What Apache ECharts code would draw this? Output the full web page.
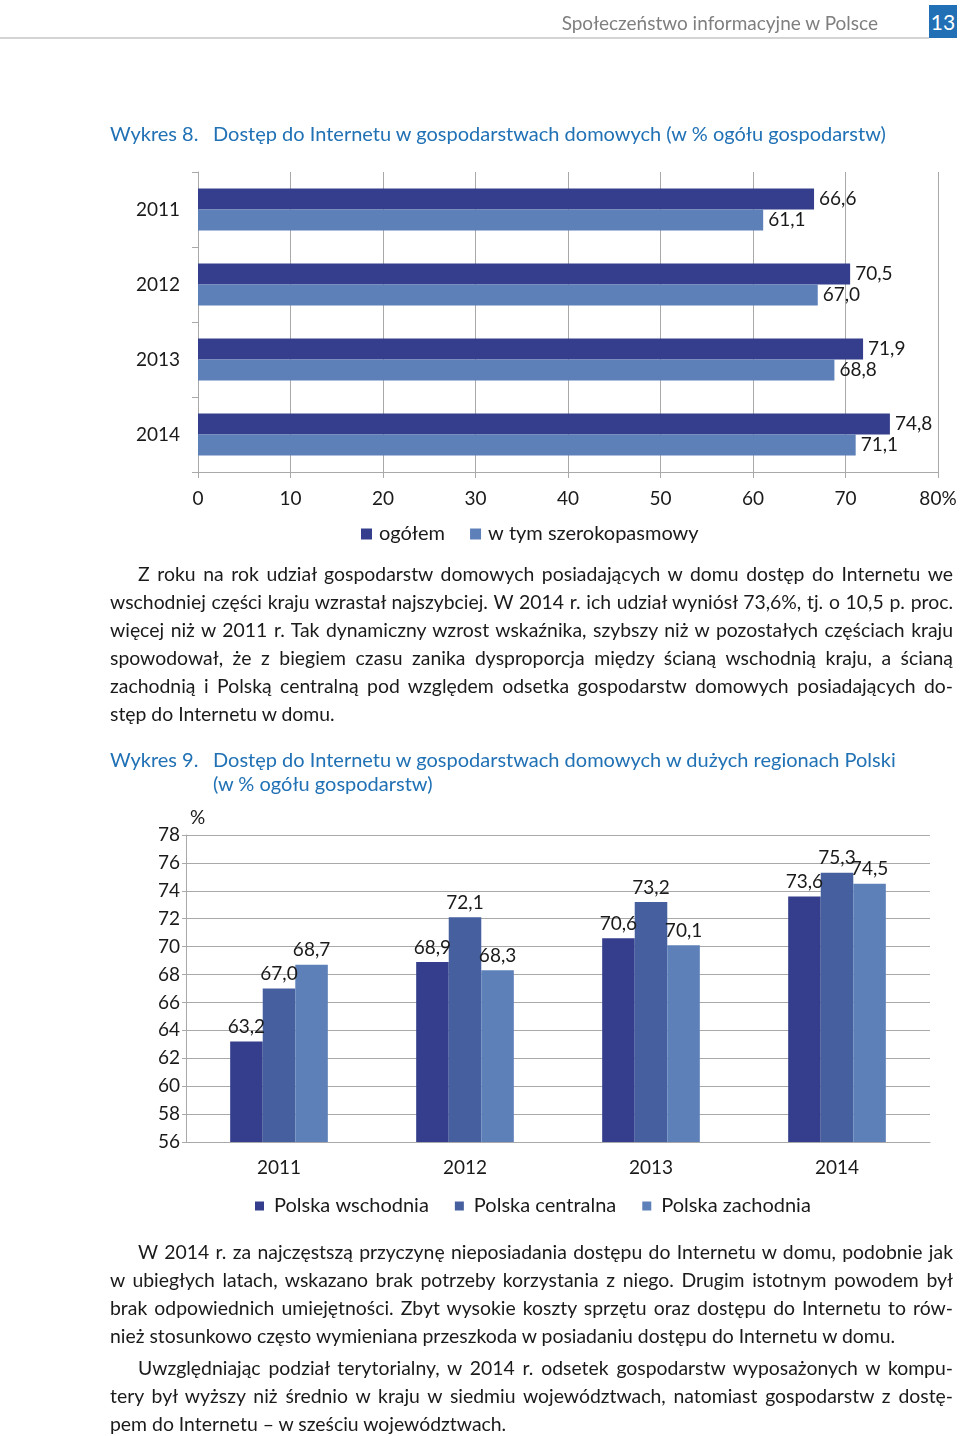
<!DOCTYPE html>
<html>
<head>
<meta charset="utf-8">
<script src="https://cdn.jsdelivr.net/npm/echarts@6/dist/echarts.min.js"></script>
<style>
  html, body { margin:0; padding:0; background:#fff; }
  body { width:960px; height:1436px; position:relative; overflow:hidden; font-family: Lato, "Liberation Sans", sans-serif; color:#1a1a1a; }
  #chart { position:absolute; left:0; top:0; width:960px; height:1436px; }
  .abs { position:absolute; white-space:nowrap; }
  .hdr { right:82px; top:11px; font-size:19px; line-height:24px; color:#7f7f7f; }
  .pg { left:929px; top:5px; width:28px; height:33px; background:#2170b5; color:#fff; font-size:21px; line-height:33px; text-align:center; }
  .rule { left:0; top:37px; width:929px; height:2px; background:#d4d4d4; }
  .ttl { font-size:20px; line-height:24px; color:#2171b5; }
  .para { position:absolute; left:110px; width:843px; font-size:19.4px; line-height:28px; color:#1a1a1a; }
  .para div { height:28px; white-space:nowrap; text-align:justify; text-align-last:justify; }
  .para div.first { padding-left:28px; }
  .para div.last { text-align:left; text-align-last:left; }
</style>
</head>
<body>
<div id="chart"></div>

<div class="abs hdr">Społeczeństwo informacyjne w Polsce</div>
<div class="abs pg">13</div>
<div class="abs rule"></div>

<div class="abs ttl" style="left:110px; top:121px;">Wykres 8.</div>
<div class="abs ttl" style="left:213px; top:121px;">Dostęp do Internetu w gospodarstwach domowych (w % ogółu gospodarstw)</div>

<div class="para" style="top:560px;">
  <div class="first">Z roku na rok udział gospodarstw domowych posiadających w domu dostęp do Internetu we</div>
  <div>wschodniej części kraju wzrastał najszybciej. W 2014 r. ich udział wyniósł 73,6%, tj. o 10,5 p. proc.</div>
  <div>więcej niż w 2011 r. Tak dynamiczny wzrost wskaźnika, szybszy niż w pozostałych częściach kraju</div>
  <div>spowodował, że z biegiem czasu zanika dysproporcja między ścianą wschodnią kraju, a ścianą</div>
  <div>zachodnią i Polską centralną pod względem odsetka gospodarstw domowych posiadających do-</div>
  <div class="last">stęp do Internetu w domu.</div>
</div>

<div class="abs ttl" style="left:110px; top:747px;">Wykres 9.</div>
<div class="abs ttl" style="left:213px; top:747px;">Dostęp do Internetu w gospodarstwach domowych w dużych regionach Polski</div>
<div class="abs ttl" style="left:213px; top:771px;">(w % ogółu gospodarstw)</div>

<div class="para" style="top:1238px;">
  <div class="first">W 2014 r. za najczęstszą przyczynę nieposiadania dostępu do Internetu w domu, podobnie jak</div>
  <div>w ubiegłych latach, wskazano brak potrzeby korzystania z niego. Drugim istotnym powodem był</div>
  <div>brak odpowiednich umiejętności. Zbyt wysokie koszty sprzętu oraz dostępu do Internetu to rów-</div>
  <div class="last">nież stosunkowo często wymieniana przeszkoda w posiadaniu dostępu do Internetu w domu.</div>
</div>
<div class="para" style="top:1354px;">
  <div class="first">Uwzględniając podział terytorialny, w 2014 r. odsetek gospodarstw wyposażonych w kompu-</div>
  <div>tery był wyższy niż średnio w kraju w siedmiu województwach, natomiast gospodarstw z dostę-</div>
  <div class="last">pem do Internetu – w sześciu województwach.</div>
</div>

<script>
// ---- Wykres 8 data ----
const years8 = ['2011', '2012', '2013', '2014'];
const ogolem = [66.6, 70.5, 71.9, 74.8];
const szerokopasmowy = [61.1, 67.0, 68.8, 71.1];

// ---- Wykres 9 data ----
const years9 = ['2011', '2012', '2013', '2014'];
const wschodnia = [63.2, 68.9, 70.6, 73.6];
const centralna = [67.0, 72.1, 73.2, 75.3];
const zachodnia = [68.7, 68.3, 70.1, 74.5];

const FONT = 'Lato';
const TXT = '#1a1a1a';
const GRID = '#a9a9a9';
const fmt = v => Number(v).toFixed(1).replace('.', ',');

const chart = echarts.init(document.getElementById('chart'), null, { renderer: 'canvas' });

const lbl = (pos) => ({
  show: true, position: pos, distance: 5, fontSize: 19, color: TXT, fontFamily: FONT,
  formatter: p => fmt(p.value)
});

const option = {
  animation: false,
  textStyle: { fontFamily: FONT, color: TXT },
  grid: [
    { left: 198, top: 172, width: 740, height: 300 },
    { left: 186, top: 835, width: 744, height: 307 }
  ],
  xAxis: [
    {
      gridIndex: 0, type: 'value', min: 0, max: 80, interval: 10,
      axisLine: { show: true, lineStyle: { color: GRID } },
      axisTick: { show: true, length: 6, lineStyle: { color: GRID } },
      splitLine: { show: true, lineStyle: { color: GRID, width: 1 } },
      axisLabel: { fontSize: 19, color: TXT, margin: 17, formatter: v => v === 80 ? '80%' : String(v) }
    },
    {
      gridIndex: 1, type: 'category', data: years9,
      axisLine: { show: true, lineStyle: { color: GRID } },
      axisTick: { show: false },
      axisLabel: { fontSize: 19, color: TXT, margin: 16 }
    }
  ],
  yAxis: [
    {
      gridIndex: 0, type: 'category', data: years8, inverse: true,
      axisLine: { show: true, lineStyle: { color: GRID } },
      axisTick: { show: true, length: 6, lineStyle: { color: GRID } },
      axisLabel: { fontSize: 19, color: TXT, margin: 18 }
    },
    {
      gridIndex: 1, type: 'value', min: 56, max: 78, interval: 2,
      name: '%', nameLocation: 'end', nameGap: 8,
      nameTextStyle: { fontSize: 19, color: TXT, align: 'left', padding: [0, 0, 0, 4] },
      axisLine: { show: true, lineStyle: { color: GRID } },
      axisTick: { show: true, length: 4, lineStyle: { color: GRID } },
      splitLine: { show: true, lineStyle: { color: GRID, width: 1 } },
      axisLabel: { fontSize: 19, color: TXT, margin: 6 }
    }
  ],
  legend: [
    {
      data: ['ogółem', 'w tym szerokopasmowy'],
      left: 361, top: 524, icon: 'rect', itemWidth: 11, itemHeight: 11, itemGap: 25, padding: 0,
      textStyle: { fontSize: 20, color: TXT, padding: [0, 0, 0, 2] }
    },
    {
      data: ['Polska wschodnia', 'Polska centralna', 'Polska zachodnia'],
      left: 255, top: 1196, icon: 'rect', itemWidth: 9, itemHeight: 9, itemGap: 26, padding: 0,
      textStyle: { fontSize: 20, color: TXT, padding: [0, 0, 0, 5] }
    }
  ],
  series: [
    {
      name: 'ogółem', type: 'bar', xAxisIndex: 0, yAxisIndex: 0, data: ogolem,
      itemStyle: { color: '#343e8c' }, barGap: '0%', barCategoryGap: '44%', label: lbl('right')
    },
    {
      name: 'w tym szerokopasmowy', type: 'bar', xAxisIndex: 0, yAxisIndex: 0, data: szerokopasmowy,
      itemStyle: { color: '#5d80b9' }, barGap: '0%', barCategoryGap: '44%', label: lbl('right')
    },
    {
      name: 'Polska wschodnia', type: 'bar', xAxisIndex: 1, yAxisIndex: 1, data: wschodnia,
      itemStyle: { color: '#343e8c' }, barGap: '0%', barCategoryGap: '47.5%', label: lbl('top')
    },
    {
      name: 'Polska centralna', type: 'bar', xAxisIndex: 1, yAxisIndex: 1, data: centralna,
      itemStyle: { color: '#46609f' }, barGap: '0%', barCategoryGap: '47.5%', label: lbl('top')
    },
    {
      name: 'Polska zachodnia', type: 'bar', xAxisIndex: 1, yAxisIndex: 1, data: zachodnia,
      itemStyle: { color: '#5d80b9' }, barGap: '0%', barCategoryGap: '47.5%', label: lbl('top')
    }
  ]
};
chart.setOption(option);
</script>
</body>
</html>
